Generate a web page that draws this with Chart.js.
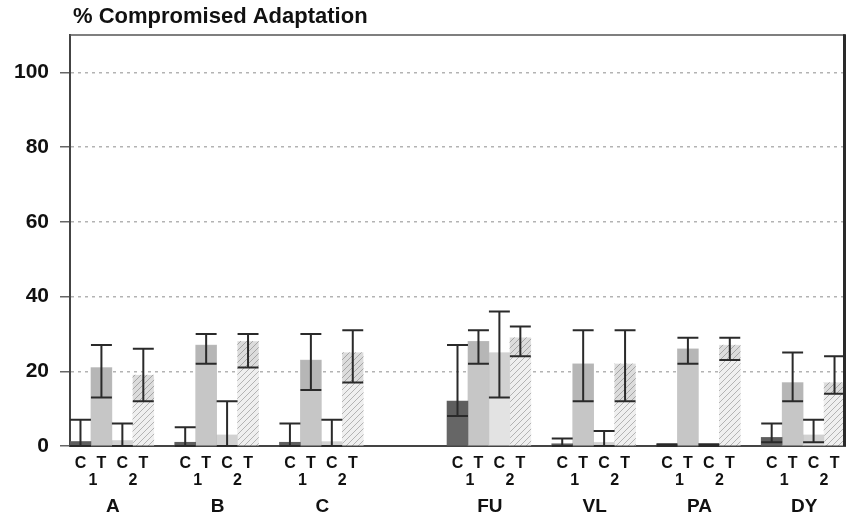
<!DOCTYPE html>
<html><head><meta charset="utf-8">
<script src="https://cdn.jsdelivr.net/npm/chart.js@4.4.1/dist/chart.umd.min.js"></script>
<style>html,body{margin:0;padding:0;background:#fff;} canvas{display:block;}</style>
</head><body>
<canvas id="c" width="853" height="516"></canvas>
<script>
// ---- data ----
const groups = ['A', 'B', 'C', 'FU', 'VL', 'PA', 'DY'];
const condLetters = ['C', 'T', 'C', 'T'];
const condNumbers = ['1', '2'];
const yTicks = [0, 20, 40, 60, 80, 100];
const titleText = '% Compromised Adaptation';

const c1Mean = [1.2, 1, 1, 12, 0.6, 0.3, 2.3];
const c1Low  = [0, 0, 0, 8, 0, 0, 1];
const c1High = [7, 5, 6, 27, 2, 0.5, 6];

const t1Mean = [21, 27, 23, 28, 22, 26, 17];
const t1Low  = [13, 22, 15, 22, 12, 22, 12];
const t1High = [27, 30, 30, 31, 31, 29, 25];

const c2Mean = [1.5, 3, 1.2, 25, 1, 0.3, 3];
const c2Low  = [0, 0, 0, 13, 0, 0, 1];
const c2High = [6, 12, 7, 36, 4, 0.5, 7];

const t2Mean = [19, 28, 25, 29, 22, 27, 17];
const t2Low  = [12, 21, 17, 24, 12, 23, 14];
const t2High = [26, 30, 31, 32, 31, 29, 24];

// ---- layout helpers ----
const FONT = '"Liberation Sans", Arial, Helvetica, sans-serif';
function slotOf(g) { return g * 5 + (g > 2 ? 3 : 0); }
const nSlots = slotOf(groups.length - 1) + 4;
const slotLabels = new Array(nSlots).fill('');
groups.forEach((g, gi) => condLetters.forEach((l, ci) => { slotLabels[slotOf(gi) + ci] = l; }));
function toSlots(arr, ci) {
  const out = new Array(nSlots).fill(null);
  arr.forEach((v, gi) => { out[slotOf(gi) + ci] = v; });
  return out;
}

const canvas = document.getElementById('c');
const ctx0 = canvas.getContext('2d');
function hatchPattern() {
  const s = 6;
  const c = document.createElement('canvas'); c.width = s; c.height = s;
  const x = c.getContext('2d');
  x.fillStyle = '#efefef'; x.fillRect(0, 0, s, s);
  x.strokeStyle = '#b3b3b3'; x.lineWidth = 1;
  x.beginPath();
  x.moveTo(0, s); x.lineTo(s, 0);
  x.moveTo(-1, 1); x.lineTo(1, -1);
  x.moveTo(s - 1, s + 1); x.lineTo(s + 1, s - 1);
  x.stroke();
  return ctx0.createPattern(c, 'repeat');
}

const series = [
  { mean: c1Mean, low: c1Low, high: c1High, color: '#666666' },
  { mean: t1Mean, low: t1Low, high: t1High, color: '#c6c6c6' },
  { mean: c2Mean, low: c2Low, high: c2High, color: '#e3e3e3' },
  { mean: t2Mean, low: t2Low, high: t2High, color: hatchPattern() }
];

const datasets = series.map((s, ci) => ({
  data: toSlots(s.mean, ci),
  errLow: toSlots(s.low, ci),
  errHigh: toSlots(s.high, ci),
  backgroundColor: s.color,
  borderWidth: 0,
  grouped: false,
  barPercentage: 1,
  categoryPercentage: 1
}));

const errorBars = {
  id: 'errorBars',
  afterDatasetsDraw(chart) {
    const { ctx, scales: { y } } = chart;
    chart.data.datasets.forEach((ds, di) => {
      const meta = chart.getDatasetMeta(di);
      meta.data.forEach((bar, i) => {
        const m = ds.data[i], lo = ds.errLow[i], hi = ds.errHigh[i];
        if (m == null || lo == null || hi == null) return;
        const { x: cx, width: w } = bar.getProps(['x', 'width'], true);
        const half = w / 2;
        const yl = y.getPixelForValue(lo), yh = y.getPixelForValue(hi), ym = y.getPixelForValue(m);
        ctx.save();
        if (yl > ym) {
          ctx.fillStyle = 'rgba(0,0,0,0.08)';
          ctx.fillRect(cx - half, ym, w, yl - ym);
        }
        ctx.strokeStyle = '#2a2a2a';
        ctx.lineWidth = 2;
        ctx.beginPath();
        ctx.moveTo(cx, yl); ctx.lineTo(cx, yh);
        ctx.moveTo(cx - half, yh); ctx.lineTo(cx + half, yh);
        ctx.moveTo(cx - half, yl); ctx.lineTo(cx + half, yl);
        ctx.stroke();
        ctx.restore();
      });
    });
  }
};

const decorations = {
  id: 'decorations',
  afterDraw(chart) {
    const { ctx, chartArea: a, scales: { x } } = chart;
    ctx.save();
    // frame top / right
    ctx.strokeStyle = '#555'; ctx.lineWidth = 1.5;
    ctx.beginPath(); ctx.moveTo(a.left, a.top); ctx.lineTo(a.right, a.top); ctx.stroke();
    ctx.strokeStyle = '#2a2a2a'; ctx.lineWidth = 3;
    ctx.beginPath(); ctx.moveTo(a.right - 0.5, a.top - 0.75); ctx.lineTo(a.right - 0.5, a.bottom); ctx.stroke();
    // title
    ctx.fillStyle = '#111';
    ctx.font = 'bold 22px ' + FONT;
    ctx.textAlign = 'left'; ctx.textBaseline = 'middle';
    ctx.fillText(titleText, 73, 17);
    // numbers row and group names
    ctx.textAlign = 'center';
    groups.forEach((g, gi) => {
      const s = slotOf(gi);
      const p = k => x.getPixelForValue(s + k);
      ctx.font = 'bold 16px ' + FONT;
      ctx.fillText(condNumbers[0], (p(0) + p(1)) / 2 + 2, 481);
      ctx.fillText(condNumbers[1], (p(2) + p(3)) / 2, 481);
      ctx.font = 'bold 19px ' + FONT;
      ctx.fillText(g, (p(0) + p(3)) / 2 + 1, 507);
    });
    ctx.restore();
  }
};

new Chart(canvas, {
  type: 'bar',
  data: { labels: slotLabels, datasets },
  options: {
    responsive: false,
    animation: false,
    layout: { padding: { top: 35, right: 8, left: 0, bottom: 0 } },
    plugins: { legend: { display: false }, title: { display: false }, tooltip: { enabled: false } },
    scales: {
      x: {
        type: 'category',
        offset: true,
        afterFit(s) { s.height = 70; },
        grid: { display: true, drawOnChartArea: false, drawTicks: false },
        border: { display: true, color: '#444', width: 2 },
        ticks: { color: '#111', font: { family: FONT, size: 16, weight: 'bold' }, padding: 8, autoSkip: false, maxRotation: 0 }
      },
      y: {
        min: 0, max: 110,
        afterFit(s) { s.width = 70; },
        afterBuildTicks(s) { s.ticks = yTicks.map(v => ({ value: v })); },
        grid: {
          color: c => (c.tick && c.tick.value === 0) ? 'rgba(0,0,0,0)' : '#b3b3b3',
          lineWidth: 1.5,
          tickColor: '#666', tickLength: 10, tickWidth: 1.5
        },
        border: { display: true, color: '#444', width: 2, dash: [3, 4] },
        ticks: { color: '#111', font: { family: FONT, size: 21, weight: 'bold' }, padding: 11 }
      }
    }
  },
  plugins: [errorBars, decorations]
});
</script>
</body></html>
